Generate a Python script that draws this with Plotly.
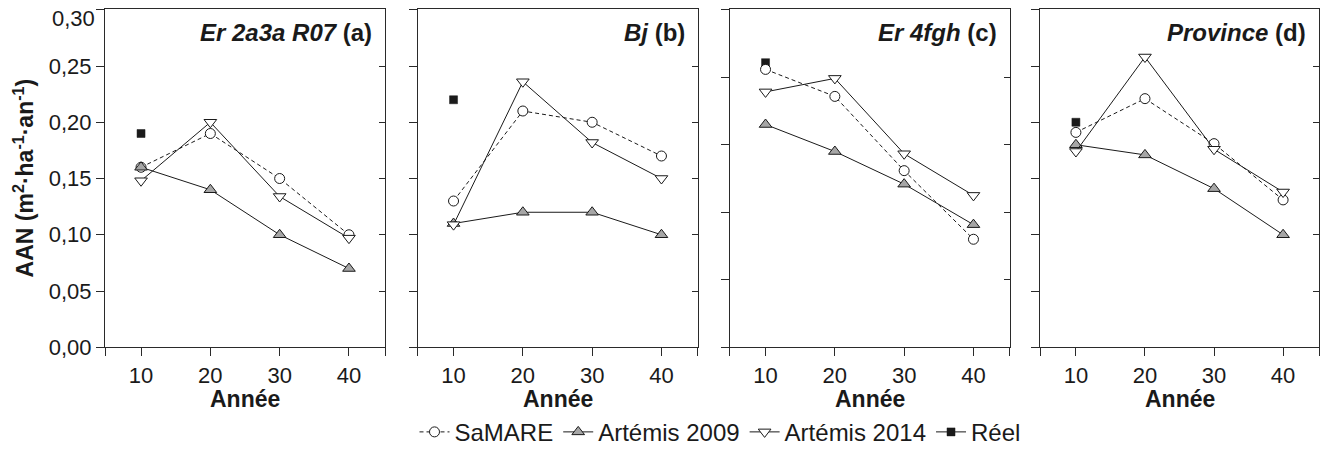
import plotly.graph_objects as go

# ---------------- data ----------------
YEARS = [10, 20, 30, 40]
REEL_YEAR = [10]

PANEL_NAMES = ["Er 2a3a R07", "Bj", "Er 4fgh", "Province"]
PANEL_LETTERS = ["(a)", "(b)", "(c)", "(d)"]

SAMARE_A = [0.160, 0.190, 0.150, 0.100]
ART09_A = [0.160, 0.140, 0.100, 0.070]
ART14_A = [0.148, 0.200, 0.134, 0.097]
REEL_A = [0.190]

SAMARE_B = [0.130, 0.210, 0.200, 0.170]
ART09_B = [0.110, 0.120, 0.120, 0.100]
ART14_B = [0.109, 0.236, 0.182, 0.150]
REEL_B = [0.220]

SAMARE_C = [0.247, 0.223, 0.157, 0.096]
ART09_C = [0.198, 0.174, 0.145, 0.109]
ART14_C = [0.227, 0.239, 0.172, 0.135]
REEL_C = [0.253]

SAMARE_D = [0.191, 0.221, 0.181, 0.131]
ART09_D = [0.180, 0.171, 0.141, 0.100]
ART14_D = [0.174, 0.258, 0.176, 0.138]
REEL_D = [0.200]

Y_TICKS = [0.00, 0.05, 0.10, 0.15, 0.20, 0.25, 0.30]
Y_TICK_LABELS = ["0,00", "0,05", "0,10", "0,15", "0,20", "0,25", "0,30"]
Y_TICKS_C = [0.00, 0.06, 0.12, 0.18, 0.24, 0.30]
Y_RANGE = [-0.0002, 0.3004]
X_TICKS = [10, 20, 30, 40]
X_TICK_LABELS = ["10", "20", "30", "40"]
X_RANGE = [4.8, 45.2]

SERIES_NAMES = ["SaMARE", "Artémis 2009", "Artémis 2014", "Réel"]
Y_TITLE = "AAN (m<sup>2</sup>·ha<sup>-1</sup>·an<sup>-1</sup>)"
X_TITLE = "Année"

panels = [
    (SAMARE_A, ART09_A, ART14_A, REEL_A, Y_TICKS),
    (SAMARE_B, ART09_B, ART14_B, REEL_B, Y_TICKS),
    (SAMARE_C, ART09_C, ART14_C, REEL_C, Y_TICKS_C),
    (SAMARE_D, ART09_D, ART14_D, REEL_D, Y_TICKS),
]

# ---------------- layout geometry ----------------
W, H = 1321, 455
X_DOMAINS_PX = [(105, 385), (417.5, 697.5), (729.5, 1009.5), (1040, 1319)]
Y_TOP_PX, Y_BOT_PX = 9.5, 354.5
FONT = "Liberation Sans, Arial, Helvetica, sans-serif"
INK = "#1a1a1a"
FRAME = "#2a2a2a"

fig = go.Figure()

for i, (sam, a09, a14, reel, yt) in enumerate(panels):
    xa = "x" if i == 0 else f"x{i+1}"
    ya = "y" if i == 0 else f"y{i+1}"
    show = i == 0
    fig.add_trace(go.Scatter(
        x=REEL_YEAR, y=reel, xaxis=xa, yaxis=ya, mode="lines+markers",
        name=SERIES_NAMES[3], legendgroup="reel", showlegend=show, legendrank=4,
        line=dict(color=INK, width=1),
        marker=dict(symbol="square", size=8, color=INK, line=dict(color=INK, width=0.5))))
    fig.add_trace(go.Scatter(
        x=YEARS, y=sam, xaxis=xa, yaxis=ya, mode="lines+markers",
        name=SERIES_NAMES[0], legendgroup="sam", showlegend=show, legendrank=1,
        line=dict(color=INK, width=1, dash="4px,3px"),
        marker=dict(symbol="circle", size=10, color="white", line=dict(color=INK, width=1))))
    fig.add_trace(go.Scatter(
        x=YEARS, y=a09, xaxis=xa, yaxis=ya, mode="lines+markers",
        name=SERIES_NAMES[1], legendgroup="a09", showlegend=show, legendrank=2,
        line=dict(color=INK, width=1),
        marker=dict(symbol="triangle-up", size=11, color="#a6a6a6", line=dict(color=INK, width=1))))
    fig.add_trace(go.Scatter(
        x=YEARS, y=a14, xaxis=xa, yaxis=ya, mode="lines+markers",
        name=SERIES_NAMES[2], legendgroup="a14", showlegend=show, legendrank=3,
        line=dict(color=INK, width=1),
        marker=dict(symbol="triangle-down", size=11, color="white", line=dict(color=INK, width=1))))
    # empty traces that carry the mirrored-tick axes
    fig.add_trace(go.Scatter(x=[], y=[], xaxis=xa, yaxis=f"y{i+5}", showlegend=False,
                             hoverinfo="skip", mode="markers"))
    fig.add_trace(go.Scatter(x=[], y=[], xaxis=f"x{i+5}", yaxis=ya, showlegend=False,
                             hoverinfo="skip", mode="markers"))

ydom = [1 - Y_BOT_PX / H, 1 - Y_TOP_PX / H]
layout = dict(
    width=W, height=H, margin=dict(l=0, r=0, t=0, b=0),
    paper_bgcolor="white", plot_bgcolor="white",
    font=dict(family=FONT, size=22, color=INK),
    showlegend=True,
    legend=dict(orientation="h", x=(402 + 1038) / 2 / W, xanchor="center",
                y=1 - 441 / H, yanchor="middle", font=dict(size=24, color=INK),
                bgcolor="rgba(0,0,0,0)", tracegroupgap=0, traceorder="normal",
                itemwidth=30),
)

annotations = []
for i, (sam, a09, a14, reel, yt) in enumerate(panels):
    xk = "xaxis" if i == 0 else f"xaxis{i+1}"
    yk = "yaxis" if i == 0 else f"yaxis{i+1}"
    xa = "x" if i == 0 else f"x{i+1}"
    ya = "y" if i == 0 else f"y{i+1}"
    x0, x1 = X_DOMAINS_PX[i]
    layout[xk] = dict(
        domain=[x0 / W, x1 / W], anchor=ya, range=X_RANGE,
        tickmode="array", tickvals=X_TICKS, ticktext=X_TICK_LABELS,
        ticks="outside", ticklen=8, tickwidth=1, tickcolor=FRAME,
        showline=True, linecolor=FRAME, linewidth=1, mirror=True,
        showgrid=False, zeroline=False, automargin=False,
        ticklabeloverflow="allow",
        tickfont=dict(size=22, color=INK, family=FONT))
    # overlay x axis: edge ticks at the frame corners
    layout[f"xaxis{i+5}"] = dict(
        overlaying=xa, anchor=ya, side="bottom", range=X_RANGE,
        tickmode="array", tickvals=X_RANGE, showticklabels=False,
        ticks="outside", ticklen=8, tickwidth=1, tickcolor=FRAME,
        showline=False, showgrid=False, zeroline=False, automargin=False)
    y_kw = dict(
        domain=ydom, anchor=xa, range=Y_RANGE,
        tickmode="array", tickvals=yt,
        ticks="outside", ticklen=8, tickwidth=1, tickcolor=FRAME,
        showline=True, linecolor=FRAME, linewidth=1, mirror=True,
        showgrid=False, zeroline=False, automargin=False,
        ticklabeloverflow="allow",
        tickfont=dict(size=22, color=INK, family=FONT))
    if i == 0:
        # top label ("0,30") is drawn a little lower, as in the reference
        y_kw["ticktext"] = Y_TICK_LABELS[:-1] + [""]
    else:
        y_kw["showticklabels"] = False
    layout[yk] = y_kw
    layout[f"yaxis{i+5}"] = dict(
        overlaying=ya, anchor=xa, side="right", range=Y_RANGE,
        tickmode="array", tickvals=yt, showticklabels=False,
        ticks="inside", ticklen=6, tickwidth=1, tickcolor=FRAME,
        showline=False, showgrid=False, zeroline=False, automargin=False)
    annotations.append(dict(
        xref=f"{xa} domain", yref="paper", x=1 - 11 / (x1 - x0), y=1 - 33 / H,
        xanchor="right", yanchor="middle", showarrow=False,
        text=f"<b><i>{PANEL_NAMES[i]}</i> {PANEL_LETTERS[i]}</b>",
        font=dict(size=24, color=INK, family=FONT)))
    annotations.append(dict(
        xref=f"{xa} domain", yref="paper", x=0.5, y=1 - 407 / H,
        xanchor="center", yanchor="middle", showarrow=False,
        text=f"<b>{X_TITLE}</b>", font=dict(size=23, color=INK, family=FONT)))

annotations.append(dict(
    xref="paper", yref="paper", x=97 / W, y=1 - 19 / H,
    xanchor="right", yanchor="middle", showarrow=False,
    text=Y_TICK_LABELS[-1], font=dict(size=22, color=INK, family=FONT)))

annotations.append(dict(
    xref="paper", yref="paper", x=24 / W, y=1 - (Y_TOP_PX + Y_BOT_PX) / 2 / H,
    xanchor="center", yanchor="middle", showarrow=False, textangle=-90,
    text=f"<b>{Y_TITLE}</b>", font=dict(size=23, color=INK, family=FONT)))

layout["annotations"] = annotations
fig.update_layout(**layout)

fig.write_html("out.html")
